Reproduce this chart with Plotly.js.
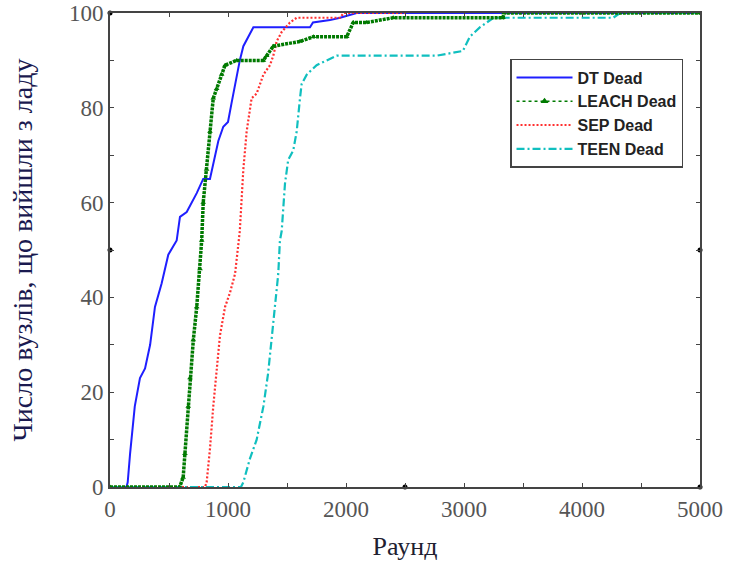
<!DOCTYPE html>
<html>
<head>
<meta charset="utf-8">
<script src="https://cdn.plot.ly/plotly-3.0.1.min.js"></script>
<style>html,body{margin:0;padding:0;background:#fff;}#chart{width:735px;height:565px;}</style>
</head>
<body>
<div id="chart"></div>
<script>
// Series (rounds, dead nodes)
const dtX = [0,140,150,170,210,254,297,340,381,438,494,565,593,650,735,790,847,875,918,960,1000,1030,1073,1100,1130,1215,1695,1720,1865,1950,2090,5000];
const dtY = [0,0,1,7,17,23,25,30,38,43,49,52,57,58,62,65,65,68,73,76,77,81,87,90,93,97,97,98,98.5,99,100,100];

const leachX = [0,590,620,635,663,678,706,735,763,777,790,819,847,875,904,946,975,1073,1300,1328,1384,1610,1724,2006,2062,2175,2400,3330,3340,5000];
const leachY = [0,0,2,7,17,23,31,38,46,52,60,67,75,82,84,87,89,90,90,91,93,94,95,95,98,98,99,99,100,100];

const sepX = [0,805,819,847,875,904,932,975,1017,1060,1087,1100,1130,1158,1200,1243,1300,1356,1384,1412,1455,1525,1582,1950,1980,2500];
const sepY = [0,0,1,8,17,25,32,38,41,45,52,54,67,75,82,83,87,89,91,94,96,98,99,99,100,100];

const teenX = [0,1110,1130,1186,1243,1300,1340,1370,1398,1426,1440,1455,1483,1510,1553,1582,1610,1624,1667,1751,1836,1921,2770,2990,3050,3136,3250,4265,4322,5000];
const teenY = [0,0,1,6,10,17,24,31,38,45,52,54,64,69,71,75,82,85,87,89,90,91,91,92,95,97,99,99,100,100];

const seriesNames = ['DT Dead','LEACH Dead','SEP Dead','TEEN Dead'];

// small black anchor dots seen on the frame
const anchorX = [0,0,2500,5000,5000];
const anchorY = [100,50,0,50,0];

const xTickVals = [0,1000,2000,3000,4000,5000];
const yTickVals = [0,20,40,60,80,100];

const traces = [
  {x: dtX, y: dtY, name: seriesNames[0], mode: 'lines',
   line: {color: '#1f1fff', width: 2}},
  // legend proxy for LEACH (thin dotted line with a triangle, as in the reference legend)
  {x: [null], y: [null], name: seriesNames[1], mode: 'lines+markers',
   line: {color: '#007a00', width: 1.5, dash: 'dot'},
   marker: {symbol: 'triangle-up', size: 7, color: '#007a00'}},
  {x: sepX, y: sepY, name: seriesNames[2], mode: 'lines',
   line: {color: '#ff3030', width: 2.2, dash: '2px,2px'}},
  {x: teenX, y: teenY, name: seriesNames[3], mode: 'lines',
   line: {color: '#10bfbf', width: 2.2, dash: '8px,3px,2px,3px'}},
  {x: leachX, y: leachY, name: seriesNames[1], mode: 'lines+markers', showlegend: false,
   line: {color: '#007a00', width: 3.5, dash: '3px,1px'},
   marker: {symbol: 'triangle-up', size: 5, color: '#007a00'}},
  {x: anchorX, y: anchorY, mode: 'markers', showlegend: false, cliponaxis: false,
   marker: {color: '#000', size: 5}, hoverinfo: 'skip'}
];

const axisCommon = {
  showline: true, linecolor: '#444', linewidth: 2, mirror: 'allticks',
  ticks: 'inside', ticklen: 4, tickcolor: '#444', tickwidth: 1,
  showgrid: false, zeroline: false,
  tickfont: {family: 'Liberation Serif', size: 23, color: '#555'}
};

const layout = {
  width: 735, height: 565,
  margin: {l: 110, r: 35, t: 13, b: 78},
  paper_bgcolor: '#fff', plot_bgcolor: '#fff',
  showlegend: true,
  xaxis: Object.assign({}, axisCommon, {
    range: [0, 5000], tickvals: xTickVals, ticktext: xTickVals.map(String),
    minor: {dtick: 500, ticks: 'inside', ticklen: 4, tickcolor: '#444'},
    title: {text: 'Раунд', font: {family: 'Liberation Serif', size: 26, color: '#202030'}, standoff: 16}
  }),
  yaxis: Object.assign({}, axisCommon, {
    range: [0, 100], tickvals: yTickVals, ticktext: yTickVals.map(String),
    minor: {dtick: 10, ticks: 'inside', ticklen: 4, tickcolor: '#444'},
    title: {text: 'Число вузлів, що вийшли з ладу', font: {family: 'Liberation Serif', size: 28, color: '#1a1a50'}, standoff: 28}
  }),
  legend: {
    x: 0.678, y: 0.903, xanchor: 'left', yanchor: 'top',
    bgcolor: '#fff', bordercolor: '#444', borderwidth: 1.5,
    itemwidth: 56,
    font: {family: 'Liberation Sans', size: 16, color: '#222', weight: 'bold'}
  }
};

Plotly.newPlot('chart', traces, layout, {displayModeBar: false, staticPlot: true});
</script>
</body>
</html>
